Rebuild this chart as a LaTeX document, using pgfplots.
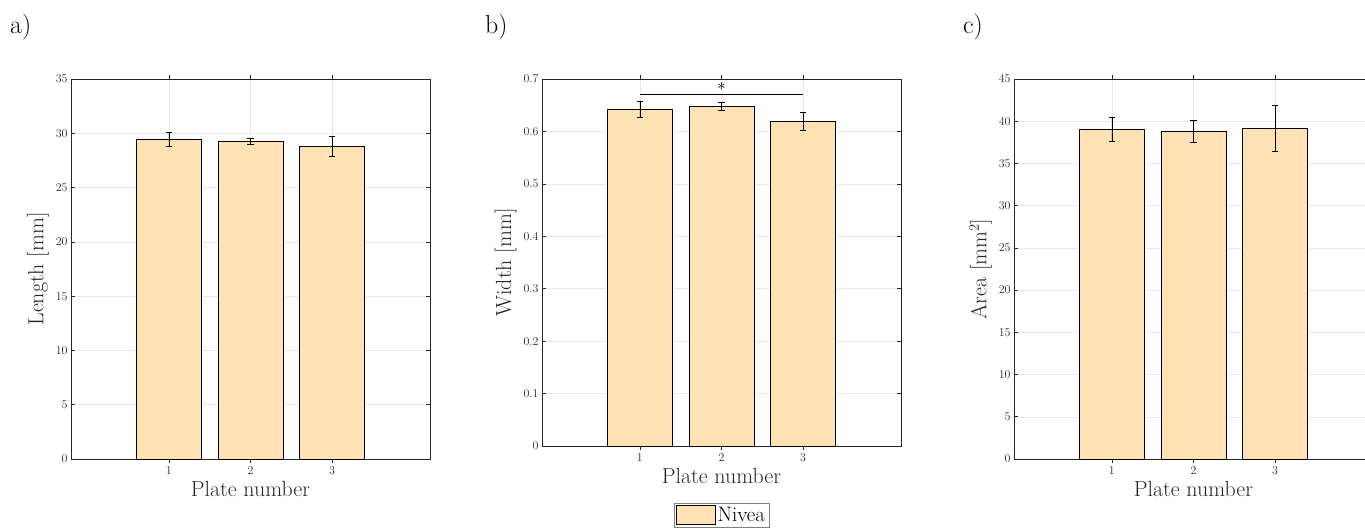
\documentclass[border=0pt]{standalone}
\usepackage{pgfplots}
\pgfplotsset{compat=1.18}

\definecolor{barfill}{RGB}{255,226,180}
\definecolor{axgray}{RGB}{38,38,38}
\definecolor{gridgray}{RGB}{232,232,232}

\pgfplotsset{
  panel/.style={
    scale only axis, width=359bp, height=380bp,
    anchor=south west,
    ybar, bar width=0.8, bar shift=0pt,
    xmin=-0.2, xmax=4.2, xtick={1,2,3}, ymin=0,
    axis line style={axgray, line width=0.8pt},
    tick style={axgray, line width=0.6pt},
    major tick length=4bp,
    tick label style={font=\fontsize{11.5}{12}\selectfont, text=axgray},
    label style={font=\fontsize{22}{24}\selectfont, text=axgray},
    grid=major, grid style={gridgray, line width=0.5pt},
    xlabel={Plate number},
  },
  bars/.style={
    fill=barfill, draw=black, line width=0.6pt,
    error bars/.cd, y dir=both, y explicit,
    error bar style={black, line width=0.7pt},
    error mark options={rotate=90, mark size=3.3bp, black, line width=0.7pt},
  },
}

\begin{document}
\begin{tikzpicture}
\useasboundingbox (0,0) rectangle (1365bp,-531bp);
\clip (0,0) rectangle (1365bp,-531bp);

% panel labels
\node[anchor=base west, inner sep=0pt, font=\fontsize{26}{28}\selectfont] at (10bp,-33bp) {a)};
\node[anchor=base west, inner sep=0pt, font=\fontsize{26}{28}\selectfont] at (485bp,-33bp) {b)};
\node[anchor=base west, inner sep=0pt, font=\fontsize{26}{28}\selectfont] at (963bp,-33bp) {c)};

% a) length
\begin{axis}[panel, at={(71bp,-459bp)},
  ymax=35, ytick={0,5,...,35},
  ylabel={Length [mm]}]
\addplot[bars] coordinates {
  (1,29.44) +- (0,0.61)
  (2,29.30) +- (0,0.28)
  (3,28.80) +- (0,0.91)
};
\end{axis}

% b) width
\begin{axis}[panel, at={(542bp,-446bp)}, height=367bp,
  ymax=0.7, ytick={0,0.1,...,0.7},
  yticklabel style={/pgf/number format/fixed, /pgf/number format/precision=1},
  ylabel={Width [mm]},
  legend style={at={(0.5,-0.155)}, anchor=north, draw=gray,
    font=\fontsize{21}{22}\selectfont, inner sep=2bp,
    /tikz/every even column/.append style={column sep=0pt}},
  legend image code/.code={\draw[fill=barfill, draw=black, line width=0.6pt] (0bp,-9bp) rectangle (39bp,10bp);},
  legend cell align=left]
\addplot[bars] coordinates {
  (1,0.642) +- (0,0.015)
  (2,0.647) +- (0,0.0077)
  (3,0.619) +- (0,0.0175)
};
\addlegendentry{Nivea}
\addplot[sharp plot, black, line width=0.7pt, forget plot] coordinates {(1,0.671) (3,0.671)};
\node[font=\fontsize{16}{16}\selectfont] at (axis cs:2,0.685) {$\ast$};
\end{axis}

% c) area
\begin{axis}[panel, at={(1014bp,-459bp)},
  ymax=45, ytick={0,5,...,45},
  ylabel={Area [mm$^2$]}]
\addplot[bars] coordinates {
  (1,39.00) +- (0,1.42)
  (2,38.80) +- (0,1.30)
  (3,39.16) +- (0,2.70)
};
\end{axis}
\end{tikzpicture}
\end{document}
